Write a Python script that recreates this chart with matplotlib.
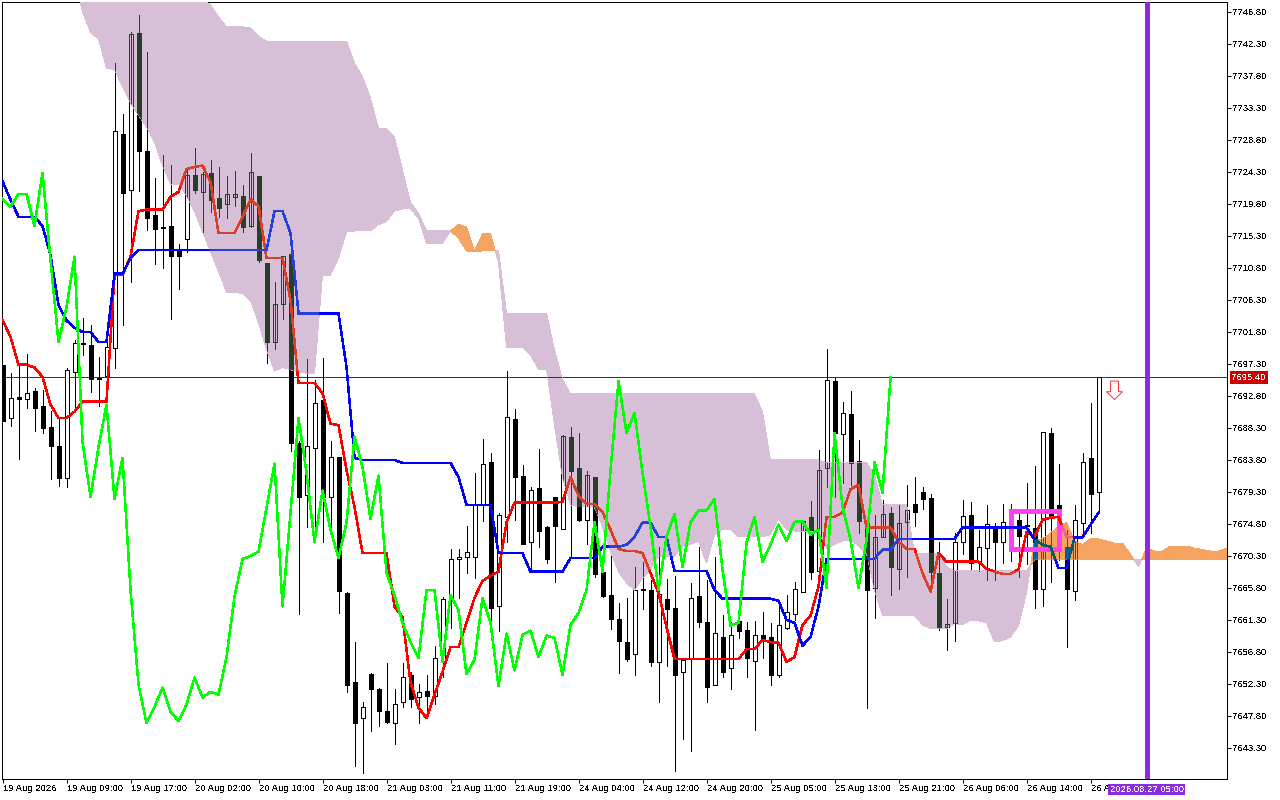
import matplotlib
matplotlib.use("Agg")
import matplotlib.pyplot as plt
import numpy as np
from matplotlib.collections import LineCollection
from matplotlib.patches import Polygon, Rectangle
from matplotlib.path import Path
from matplotlib.transforms import blended_transform_factory

plt.rcParams['font.family'] = ['Liberation Sans', 'DejaVu Sans']
plt.rcParams['text.antialiased'] = False

opens = [7697.2, 7689.7, 7692.6, 7692.4, 7693.5, 7691.4, 7688.5, 7685.8, 7681.3, 7696.2,
         7700.2, 7700.0, 7695.3, 7695.6, 7699.6, 7729.7, 7721.8, 7743.9, 7727.3, 7718.3,
         7716.5, 7716.7, 7713.2, 7714.9, 7723.9, 7721.5, 7724.2, 7720.7, 7719.8, 7720.8,
         7720.9, 7716.7, 7723.8, 7711.5, 7700.4, 7705.8, 7712.8, 7686.2, 7678.9, 7685.5,
         7692.3, 7678.6, 7684.2, 7665.1, 7652.6, 7647.5, 7653.7, 7651.6, 7648.5, 7646.8,
         7649.8, 7653.5, 7650.5, 7651.3, 7650.6, 7655.4, 7664.6, 7669.9, 7670.2, 7670.2,
         7677.5, 7683.5, 7663.2, 7675.8, 7689.6, 7681.6, 7672.2, 7679.9, 7674.4, 7678.6,
         7674.1, 7687.1, 7682.7, 7675.4, 7681.4, 7668.1, 7664.8, 7661.5, 7658.2, 7656.5,
         7665.6, 7665.5, 7655.4, 7664.3, 7663.0, 7654.0, 7656.0, 7664.7, 7661.0, 7652.2,
         7658.9, 7654.6, 7661.2, 7659.9, 7655.6, 7659.2, 7658.9, 7653.5, 7660.2, 7662.2,
         7665.3, 7675.8, 7668.2, 7682.7, 7694.9, 7687.5, 7690.2, 7683.7, 7675.2, 7665.8,
         7673.0, 7676.4, 7668.5, 7675.1, 7677.6, 7679.3, 7678.5, 7667.9, 7660.3, 7660.9,
         7672.3, 7676.1, 7669.6, 7671.4, 7674.5, 7672.2, 7675.9, 7675.4, 7674.6, 7674.3,
         7665.7, 7687.6, 7677.4, 7671.6, 7665.4, 7674.9, 7684.1, 7679.3]
highs = [7697.2, 7696.0, 7697.2, 7698.7, 7693.9, 7693.7, 7690.7, 7689.7, 7696.8, 7700.7,
         7703.8, 7702.8, 7698.3, 7701.1, 7739.6, 7732.5, 7744.0, 7746.4, 7741.2, 7723.5,
         7726.7, 7725.3, 7714.2, 7724.9, 7727.7, 7724.3, 7726.0, 7725.0, 7723.8, 7724.5,
         7722.5, 7727.0, 7723.8, 7711.5, 7708.8, 7712.5, 7714.3, 7686.4, 7698.0, 7695.1,
         7698.2, 7686.5, 7684.2, 7665.3, 7658.2, 7649.8, 7653.9, 7651.8, 7655.3, 7651.6,
         7655.3, 7654.0, 7652.3, 7653.6, 7657.7, 7664.6, 7671.3, 7671.3, 7674.5, 7681.9,
         7686.8, 7684.8, 7676.4, 7696.3, 7691.0, 7683.1, 7680.0, 7685.4, 7674.5, 7678.6,
         7687.3, 7688.5, 7687.6, 7682.3, 7681.4, 7668.1, 7670.5, 7663.7, 7664.4, 7668.8,
         7669.5, 7666.9, 7671.5, 7667.1, 7667.5, 7656.0, 7666.5, 7671.5, 7666.9, 7670.2,
         7662.0, 7661.0, 7662.4, 7661.0, 7661.2, 7662.4, 7660.9, 7663.7, 7664.8, 7666.7,
         7675.2, 7678.1, 7685.2, 7699.4, 7695.3, 7692.0, 7693.5, 7686.6, 7675.2, 7676.1,
         7678.2, 7677.2, 7677.4, 7680.3, 7681.4, 7680.0, 7679.0, 7672.3, 7664.3, 7673.6,
         7678.2, 7677.9, 7674.0, 7677.4, 7675.0, 7677.6, 7677.6, 7676.8, 7680.6, 7683.0,
         7687.8, 7688.3, 7683.3, 7674.0, 7677.4, 7684.8, 7691.8, 7695.4]
lows = [7689.3, 7688.6, 7684.0, 7691.1, 7687.9, 7687.6, 7681.1, 7680.2, 7680.0, 7691.1,
        7698.6, 7693.4, 7691.4, 7694.9, 7696.8, 7702.8, 7708.8, 7721.6, 7716.2, 7711.4,
        7710.8, 7703.6, 7707.9, 7713.1, 7721.4, 7715.9, 7718.7, 7718.0, 7717.8, 7719.5,
        7715.9, 7716.6, 7711.7, 7697.5, 7699.4, 7703.6, 7685.1, 7662.2, 7674.4, 7674.4,
        7672.3, 7674.4, 7662.3, 7651.2, 7640.7, 7639.8, 7645.7, 7646.4, 7646.8, 7643.9,
        7649.0, 7649.0, 7646.8, 7647.5, 7649.5, 7653.3, 7660.2, 7664.4, 7667.9, 7667.2,
        7675.2, 7659.2, 7659.8, 7672.2, 7675.4, 7672.0, 7668.4, 7671.5, 7669.3, 7666.7,
        7674.1, 7670.0, 7675.2, 7672.0, 7667.4, 7664.6, 7660.1, 7653.9, 7655.6, 7653.6,
        7662.9, 7654.9, 7649.7, 7654.9, 7640.1, 7644.6, 7642.9, 7660.3, 7649.7, 7652.2,
        7653.3, 7651.6, 7658.8, 7653.3, 7645.9, 7656.0, 7652.2, 7653.3, 7660.1, 7661.3,
        7665.3, 7667.1, 7668.2, 7680.0, 7678.6, 7680.5, 7680.3, 7673.6, 7648.9, 7661.6,
        7672.9, 7664.8, 7665.7, 7667.4, 7674.5, 7676.9, 7666.9, 7659.9, 7657.1, 7658.4,
        7670.6, 7668.4, 7668.2, 7666.9, 7666.9, 7669.3, 7669.6, 7667.4, 7669.2, 7663.0,
        7663.2, 7666.7, 7669.8, 7657.5, 7664.1, 7673.0, 7673.6, 7676.5]
closes = [7689.3, 7692.5, 7692.4, 7693.2, 7691.1, 7688.3, 7685.8, 7681.3, 7696.5, 7700.3,
          7700.1, 7695.2, 7695.2, 7699.7, 7730.1, 7721.4, 7743.7, 7727.3, 7717.8, 7716.3,
          7716.4, 7712.5, 7712.5, 7723.9, 7721.8, 7724.0, 7720.4, 7719.3, 7721.2, 7721.2,
          7716.6, 7724.3, 7711.9, 7700.4, 7705.8, 7712.5, 7686.2, 7678.6, 7685.8, 7691.8,
          7678.6, 7684.2, 7665.4, 7652.2, 7646.8, 7649.1, 7651.6, 7648.5, 7647.0, 7649.5,
          7653.3, 7650.2, 7651.2, 7650.6, 7656.0, 7664.3, 7669.9, 7670.2, 7670.9, 7677.5,
          7683.3, 7663.0, 7676.1, 7689.9, 7681.4, 7672.0, 7679.6, 7673.8, 7669.9, 7674.5,
          7687.2, 7682.3, 7675.4, 7681.7, 7667.8, 7664.7, 7661.5, 7658.4, 7655.8, 7665.5,
          7665.5, 7655.4, 7665.0, 7662.9, 7653.6, 7655.7, 7664.4, 7661.0, 7651.9, 7659.5,
          7654.0, 7659.2, 7659.8, 7656.0, 7659.2, 7658.5, 7653.5, 7660.6, 7662.4, 7665.7,
          7675.2, 7668.1, 7682.4, 7695.1, 7687.6, 7690.4, 7683.4, 7675.2, 7665.5, 7673.0,
          7676.2, 7668.8, 7675.0, 7676.7, 7676.5, 7678.3, 7668.1, 7660.3, 7660.8, 7672.2,
          7675.9, 7669.3, 7671.6, 7674.8, 7672.3, 7675.1, 7673.7, 7673.1, 7674.5, 7665.7,
          7687.8, 7675.7, 7676.8, 7665.7, 7675.4, 7683.5, 7679.0, 7695.4]

tenkan = [7703.5, 7701.1, 7697.2, 7697.2, 7696.8, 7695.5, 7691.6, 7689.7, 7689.7, 7690.6,
          7692.0, 7692.0, 7692.0, 7692.0, 7709.8, 7709.8, 7712.4, 7718.8, 7719.0, 7719.0,
          7719.0, 7720.8, 7721.5, 7724.7, 7725.0, 7725.2, 7722.9, 7715.7, 7715.7, 7715.7,
          7718.0, 7720.4, 7719.5, 7712.2, 7712.2, 7712.2, 7706.3, 7694.6, 7694.6, 7694.6,
          7693.2, 7688.9, 7688.7, 7682.4, 7677.2, 7670.7, 7670.7, 7670.7, 7670.7, 7663.2,
          7661.7, 7652.5, 7649.0, 7647.5, 7650.8, 7654.0, 7657.5, 7657.5, 7660.9, 7664.4,
          7666.8, 7667.5, 7668.1, 7675.0, 7677.8, 7677.8, 7677.8, 7677.8, 7677.8, 7677.8,
          7677.9, 7681.4, 7678.8, 7677.6, 7677.6, 7676.5, 7674.0, 7671.3, 7671.0, 7671.0,
          7670.7, 7667.9, 7665.1, 7660.3, 7655.8, 7655.8, 7655.8, 7655.8, 7655.8, 7655.8,
          7655.8, 7655.8, 7655.8, 7657.2, 7657.2, 7658.5, 7658.2, 7658.1, 7655.4, 7656.1,
          7660.6, 7661.9, 7666.0, 7675.8, 7675.8, 7676.4, 7679.7, 7680.3, 7674.3, 7674.3,
          7674.3, 7674.3, 7672.3, 7671.3, 7671.3, 7667.9, 7665.3, 7670.7, 7669.5, 7669.5,
          7669.5, 7669.5, 7669.5, 7668.5, 7668.1, 7667.8, 7667.8, 7668.4, 7673.7, 7673.0,
          7675.4, 7675.7, 7675.8, 7673.0, 7673.0, 7673.0, 7674.7, 7676.4]
kijun = [7723.0, 7720.4, 7718.0, 7718.0, 7718.0, 7716.7, 7712.6, 7705.6, 7703.4, 7702.4,
         7701.8, 7701.8, 7700.4, 7700.4, 7710.0, 7710.0, 7712.2, 7713.3, 7713.3, 7713.3,
         7713.3, 7713.3, 7713.3, 7713.3, 7713.3, 7713.3, 7713.3, 7713.3, 7713.3, 7713.3,
         7713.3, 7713.3, 7713.3, 7713.3, 7718.8, 7718.8, 7715.7, 7704.4, 7704.4, 7704.4,
         7704.4, 7704.4, 7704.4, 7696.9, 7684.1, 7683.8, 7683.8, 7683.8, 7683.8, 7683.8,
         7683.4, 7683.4, 7683.4, 7683.4, 7683.4, 7683.4, 7683.4, 7681.4, 7677.5, 7677.5,
         7677.5, 7677.5, 7670.7, 7670.7, 7670.7, 7670.7, 7668.1, 7668.1, 7668.1, 7668.1,
         7668.1, 7670.0, 7670.0, 7670.0, 7670.0, 7671.6, 7671.6, 7671.6, 7671.9, 7673.0,
         7675.0, 7675.0, 7673.0, 7673.0, 7668.2, 7668.2, 7668.2, 7668.2, 7668.2, 7665.5,
         7664.3, 7664.3, 7664.3, 7664.3, 7664.3, 7664.3, 7664.3, 7664.0, 7661.3, 7660.9,
         7657.7, 7658.9, 7663.2, 7669.9, 7669.9, 7669.9, 7669.9, 7669.9, 7669.9, 7669.9,
         7671.2, 7671.2, 7672.7, 7672.7, 7672.7, 7672.7, 7672.7, 7672.7, 7672.7, 7672.7,
         7674.3, 7674.3, 7674.3, 7674.3, 7674.3, 7674.3, 7674.3, 7674.3, 7674.3, 7672.6,
         7671.9, 7671.6, 7668.6, 7668.6, 7672.9, 7672.9, 7674.7, 7676.4]
chikou = [7720.5, 7719.4, 7721.2, 7721.2, 7716.7, 7724.2, 7711.9, 7700.4, 7705.3, 7712.4,
          7686.4, 7678.6, 7685.6, 7691.6, 7678.3, 7684.1, 7665.5, 7652.2, 7646.8, 7649.1,
          7651.8, 7648.4, 7647.1, 7649.4, 7653.2, 7650.4, 7651.2, 7650.8, 7656.1, 7664.6,
          7669.9, 7670.3, 7670.9, 7677.1, 7683.3, 7663.2, 7676.4, 7689.7, 7682.0, 7672.2,
          7679.5, 7674.0, 7670.0, 7675.0, 7687.1, 7682.8, 7675.5, 7681.6, 7667.9, 7664.8,
          7660.9, 7658.2, 7656.0, 7665.5, 7665.5, 7655.4, 7664.8, 7662.7, 7653.7, 7655.7,
          7664.4, 7660.9, 7652.0, 7659.4, 7654.2, 7659.2, 7659.8, 7656.1, 7659.1, 7658.8,
          7653.6, 7660.6, 7662.3, 7665.5, 7675.1, 7668.1, 7682.4, 7694.9, 7687.6, 7690.4,
          7682.0, 7674.4, 7665.5, 7673.0, 7676.2, 7668.8, 7675.0, 7676.7, 7676.7, 7678.3,
          7668.4, 7660.5, 7660.9, 7672.2, 7675.8, 7669.5, 7671.9, 7674.7, 7672.4, 7675.1,
          7675.2, 7673.3, 7674.0, 7665.8, 7687.6, 7677.2, 7672.6, 7665.8, 7672.6, 7683.5,
          7679.2, 7695.4]

# cloud starts at bar 9, the first bars are above the visible range
span_a = [7751.3, 7746.8, 7743.9, 7743.0, 7738.9, 7738.7, 7736.3, 7734.0, 7732.3, 7730.6,
          7728.5, 7725.2, 7722.6, 7722.6, 7721.0, 7718.7, 7715.9, 7713.1, 7710.3, 7707.4,
          7707.4, 7707.2, 7706.2, 7703.1, 7699.3, 7696.3, 7696.8, 7696.5, 7696.2, 7696.0,
          7696.0, 7709.8, 7709.8, 7712.2, 7715.9, 7716.0, 7716.0, 7716.0, 7716.9, 7717.3,
          7718.8, 7719.1, 7719.1, 7717.8, 7714.3, 7714.3, 7714.3, 7716.0, 7716.9, 7716.6,
          7713.2, 7715.6, 7715.6, 7711.5, 7699.6, 7699.6, 7699.6, 7698.6, 7696.5, 7696.5,
          7688.7, 7681.4, 7677.5, 7677.2, 7677.2, 7677.2, 7674.4, 7670.9, 7668.1, 7666.5,
          7665.5, 7667.2, 7668.4, 7670.2, 7670.2, 7670.3, 7671.6, 7671.9, 7672.4, 7669.3,
          7673.3, 7674.0, 7674.1, 7673.0, 7673.0, 7673.0, 7673.0, 7673.3, 7675.5, 7674.0,
          7673.8, 7673.8, 7673.8, 7673.8, 7671.4, 7671.9, 7672.4, 7672.6, 7671.7, 7670.7,
          7665.5, 7661.9, 7661.9, 7661.9, 7661.9, 7661.9, 7660.6, 7660.1, 7660.1, 7660.1,
          7660.8, 7660.6, 7661.3, 7661.2, 7660.9, 7658.2, 7658.4, 7658.9, 7660.5, 7665.1,
          7672.6, 7672.7, 7673.5, 7674.5, 7675.0, 7672.4, 7671.9, 7672.7, 7672.7, 7672.4,
          7672.1, 7672.1, 7670.5, 7668.8, 7671.4, 7671.0, 7671.0, 7671.7, 7671.7, 7671.7,
          7671.4, 7671.2, 7671.0, 7671.0, 7671.4]
span_b = [7755.0, 7755.0, 7755.0, 7755.0, 7755.0, 7755.0, 7755.0, 7755.0, 7755.0, 7755.0,
          7755.0, 7755.0, 7755.0, 7755.0, 7755.0, 7755.0, 7748.6, 7747.8, 7746.1, 7744.7,
          7744.7, 7744.7, 7744.6, 7743.4, 7742.7, 7742.7, 7742.7, 7742.7, 7742.7, 7742.7,
          7742.7, 7742.7, 7742.7, 7742.7, 7742.7, 7739.6, 7737.7, 7734.7, 7730.4, 7730.4,
          7729.2, 7724.6, 7720.0, 7718.5, 7716.0, 7716.0, 7716.0, 7716.0, 7715.0, 7713.2,
          7713.1, 7713.2, 7713.2, 7713.3, 7704.4, 7704.4, 7704.4, 7704.4, 7704.4, 7704.4,
          7699.3, 7695.1, 7693.1, 7693.1, 7693.1, 7693.1, 7693.1, 7693.1, 7693.1, 7693.1,
          7693.1, 7693.1, 7693.1, 7693.1, 7693.1, 7693.1, 7693.1, 7693.1, 7693.1, 7693.1,
          7693.1, 7693.1, 7693.1, 7693.1, 7693.1, 7693.1, 7690.6, 7683.8, 7683.8, 7683.8,
          7683.8, 7683.8, 7683.8, 7683.8, 7683.4, 7683.4, 7683.4, 7683.4, 7683.4, 7683.4,
          7681.7, 7677.5, 7677.5, 7677.5, 7677.5, 7670.7, 7670.7, 7670.7, 7670.7, 7668.8,
          7668.2, 7668.2, 7668.2, 7668.2, 7668.2, 7668.2, 7668.2, 7668.2, 7668.2, 7668.2,
          7669.8, 7669.8, 7669.8, 7669.8, 7669.8, 7669.8, 7669.8, 7669.8, 7669.8, 7669.8,
          7669.8, 7669.8, 7669.8, 7669.8, 7669.8, 7669.8, 7669.8, 7669.8, 7669.8, 7669.8,
          7669.8, 7669.8, 7669.8, 7669.8, 7669.8]

current_price = 7695.40
expiry_bar = 143
expiry_label = '2026.08.27 05:00'
box_bars = [126, 132]
box_prices = [7671.3, 7676.6]
arrow_bar = 139.0
arrow_prices = [7694.9, 7693.4, 7692.3]

ytick_values = [7746.80, 7742.30, 7737.80, 7733.30, 7728.80, 7724.30, 7719.80, 7715.30,
                7710.80, 7706.30, 7701.80, 7697.30, 7692.80, 7688.30, 7683.80, 7679.30,
                7674.80, 7670.30, 7665.80, 7661.30, 7656.80, 7652.30, 7647.80, 7643.30]
xtick_labels = ['19 Aug 2026', '19 Aug 09:00', '19 Aug 17:00', '20 Aug 02:00', '20 Aug 10:00',
                '20 Aug 18:00', '21 Aug 03:00', '21 Aug 11:00', '21 Aug 19:00', '24 Aug 04:00',
                '24 Aug 12:00', '24 Aug 20:00', '25 Aug 05:00', '25 Aug 13:00', '25 Aug 21:00',
                '26 Aug 06:00', '26 Aug 14:00', '26 A']

THISTLE = '#D8BFD8'
SAND = '#F4A460'
PX = 0.72  # one pixel in points at dpi 100


def draw_candles(ax, edge, down_face, up_face, zorder, clip=None):
    x = np.arange(len(opens))
    o = np.array(opens)
    c = np.array(closes)
    segs = [[(i, lows[i]), (i, highs[i])] for i in x]
    wicks = LineCollection(segs, colors=edge, linewidths=PX, zorder=zorder, antialiased=False)
    ax.add_collection(wicks)
    up = c >= o
    up_bars = ax.bar(x[up], (c - o)[up], bottom=o[up], width=0.5, facecolor=up_face,
                     edgecolor=edge, linewidth=PX, zorder=zorder, antialiased=False)
    down_bars = ax.bar(x[~up], (o - c)[~up], bottom=c[~up], width=0.5, facecolor=down_face,
                       edgecolor=edge, linewidth=PX, zorder=zorder, antialiased=False)
    if clip is not None:
        wicks.set_clip_path(clip, ax.transData)
        for b in list(up_bars) + list(down_bars):
            b.set_clip_path(clip, ax.transData)


def draw_lines(ax, red, blue, zorder, clip=None):
    x = np.arange(len(tenkan))
    l1, = ax.plot(x, tenkan, color=red, lw=1.5 * PX, zorder=zorder, antialiased=False)
    l2, = ax.plot(x, kijun, color=blue, lw=1.5 * PX, zorder=zorder + 0.1, antialiased=False)
    if clip is not None:
        l1.set_clip_path(clip, ax.transData)
        l2.set_clip_path(clip, ax.transData)


fig = plt.figure(figsize=(12.8, 8), dpi=100)
ax = fig.add_axes([2 / 1280, 1 - 779 / 800, 1225 / 1280, 777 / 800])
ax.set_xlim(-0.0625, 153.06)
ax.set_ylim(7638.94, 7748.2)

ax.axhline(current_price, color='#b00000', lw=PX, zorder=1, antialiased=False)
draw_candles(ax, 'black', 'black', 'white', 2)

cloud_x = np.arange(9, 9 + len(span_a))
a = np.array(span_a)
b = np.array(span_b)
bear = ax.fill_between(cloud_x, a, b, where=b >= a, interpolate=True, color=THISTLE,
                       linewidth=0, zorder=3, antialiased=False)
bull = ax.fill_between(cloud_x, a, b, where=a >= b, interpolate=True, color=SAND,
                       linewidth=0, zorder=3, antialiased=False)
bear_path = Path.make_compound_path(*bear.get_paths())
bull_path = Path.make_compound_path(*bull.get_paths())

# the cloud is xor-painted in the terminal: dark pixels show through inverted
price_over, = ax.plot([0, cloud_x[-1]], [current_price, current_price], color='#b00000', lw=PX,
                      zorder=3.5, antialiased=False)
price_over.set_clip_path(Path.make_compound_path(bear_path, bull_path), ax.transData)
draw_candles(ax, '#274027', '#274027', 'none', 4, clip=bear_path)
draw_candles(ax, '#0B5B9F', '#0B5B9F', 'none', 4, clip=bull_path)

ax.add_patch(Rectangle((box_bars[0], box_prices[0]), box_bars[1] - box_bars[0],
                       box_prices[1] - box_prices[0], fill=False, edgecolor='#ff40f0',
                       lw=5 * PX, zorder=5, antialiased=False, joinstyle='miter'))

draw_lines(ax, '#ff0000', '#0000ff', 6)
draw_lines(ax, '#D84027', '#2740D8', 7, clip=bear_path)
draw_lines(ax, '#F45B9F', '#0B5B60', 7, clip=bull_path)

ax.plot(np.arange(len(chikou)), chikou, color='#00ff00', lw=1.5 * PX, zorder=8, antialiased=False)

ax.axvline(expiry_bar, color='#8A2BE2', lw=5 * PX, zorder=9, antialiased=False)

ax.add_patch(Polygon([(arrow_bar - 0.5, arrow_prices[0]), (arrow_bar + 0.5, arrow_prices[0]),
                      (arrow_bar + 0.5, arrow_prices[1]), (arrow_bar + 1, arrow_prices[1]),
                      (arrow_bar, arrow_prices[2]), (arrow_bar - 1, arrow_prices[1]),
                      (arrow_bar - 0.5, arrow_prices[1])],
                     closed=True, facecolor='white', edgecolor='#ff3030', lw=PX, zorder=9))

ax.yaxis.tick_right()
ax.set_yticks(ytick_values)
ax.set_yticklabels(['%.2f' % v for v in ytick_values])
ax.set_xticks(np.arange(len(xtick_labels)) * 8)
ax.set_xticklabels(xtick_labels, ha='left')
ax.tick_params(axis='y', length=4 * PX, width=PX, pad=1, labelsize=6.8)
ax.tick_params(axis='x', length=4 * PX, width=PX, pad=1, labelsize=6.8)
for spine in ax.spines.values():
    spine.set_linewidth(PX)

ax.text(1.0180, current_price, '%.2f' % current_price, transform=ax.get_yaxis_transform(),
        color='white', fontsize=6.8, ha='center', va='center', zorder=12, clip_on=False,
        bbox=dict(boxstyle='square,pad=0.2', facecolor='#cc0000', edgecolor='none'))

trans = blended_transform_factory(ax.transData, ax.transAxes)
ax.text(expiry_bar, -0.0135, expiry_label, transform=trans, color='white', fontsize=6.8,
        ha='center', va='center', zorder=12, clip_on=False,
        bbox=dict(boxstyle='square,pad=0.15', facecolor='#8A2BE2', edgecolor='none'))

fig.savefig('out.png', dpi=100)
